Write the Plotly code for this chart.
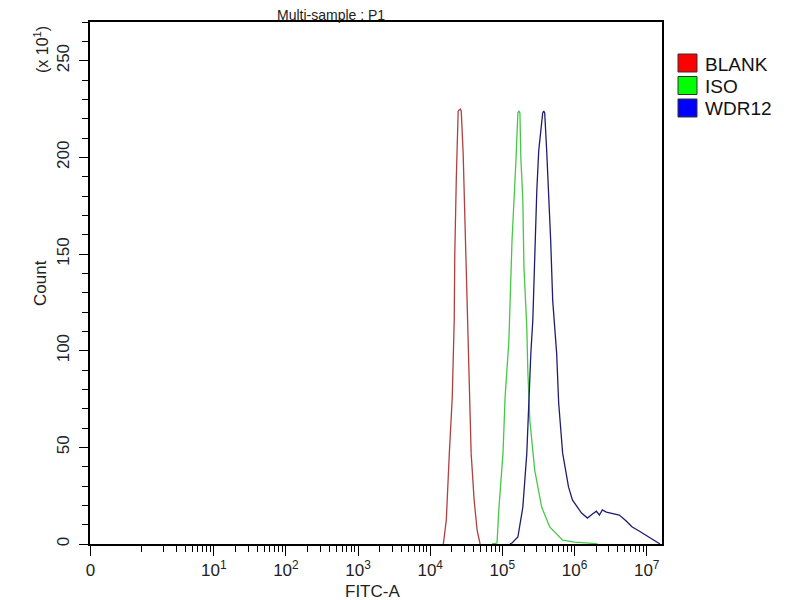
import plotly.graph_objects as go

# FITC-A intensity / count (x10^1)
blank_fitc = [15200, 16700, 18400, 20200, 21500, 21900, 23000, 24400, 26100, 26900,
              28600, 30500, 32500, 33600, 36900, 40600, 44700, 49100]
blank_count = [0, 12.4, 47, 76, 115.7, 150, 189.6, 224, 225, 224,
               202, 163.7, 124.5, 105, 47, 22.7, 7, 0]

iso_fitc = [71900, 84300, 89700, 102000, 109000, 123000, 136000, 145000, 154000, 164000,
            169000, 175000, 180000, 192000, 199000, 218000, 225000, 240000, 281000, 351000,
            453000, 684000, 1000000, 1610000, 2080000]
iso_count = [0, 0.5, 19, 47, 76, 105, 157, 183, 198, 223,
             224, 223, 200, 178, 143, 112, 90, 64, 38, 19,
             8.8, 2, 1, 0.5, 0]

wdr12_fitc = [127000, 136000, 164000, 192000, 218000, 232000, 248000, 264000, 281000, 300000,
              319000, 340000, 362000, 374000, 386000, 411000, 439000, 467000, 498000, 531000,
              565000, 603000, 684000, 826000, 938000, 1250000, 1510000, 1770000, 2010000, 2210000,
              2430000, 2760000, 3240000, 4170000, 5200000, 6300000, 7850000, 9820000, 11860000,
              13900000, 15310000]
wdr12_count = [0, 0.5, 3.6, 19, 47, 76, 98.7, 115.7, 151.9, 182.8,
               203.5, 213.8, 223, 224, 223, 203.5, 181, 157, 126, 112,
               98.7, 72.8, 47, 29.4, 22.7, 16, 13.4, 15.5, 17, 15,
               17.6, 16.5, 16, 15, 11.9, 8.8, 6.7, 4.6, 2.6,
               1, 0]

sample_names = ["BLANK", "ISO", "WDR12"]
line_colors = ["#b04040", "#46c846", "#1e1e70"]
box_colors = ["#ff0000", "#00ff00", "#0000ff"]

x_tickvals = [10 ** -0.708, 10, 100, 1000, 1e4, 1e5, 1e6, 1e7]
x_ticktext = ["0", "10<sup>1</sup>", "10<sup>2</sup>", "10<sup>3</sup>", "10<sup>4</sup>",
              "10<sup>5</sup>", "10<sup>6</sup>", "10<sup>7</sup>"]
x_minor = [k * 10 ** n for n in range(0, 7) for k in range(1, 10) if not (k == 1 and n > 0)]

y_tickvals = [0, 50, 100, 150, 200, 250]
y_minor = [v for v in range(0, 271, 10) if v % 50]

font = "Liberation Sans, Arial, sans-serif"

fig = go.Figure()
for name, xs, ys, c in zip(sample_names,
                           [blank_fitc, iso_fitc, wdr12_fitc],
                           [blank_count, iso_count, wdr12_count],
                           line_colors):
    fig.add_trace(go.Scatter(x=xs, y=ys, mode="lines", name=name,
                             line=dict(color=c, width=1.3), showlegend=False))

fig.update_xaxes(
    type="log",
    range=[-0.715, 7.212],
    showline=True, linecolor="black", linewidth=1.5, mirror=True,
    showgrid=False, zeroline=False,
    tickmode="array", tickvals=x_tickvals, ticktext=x_ticktext,
    ticks="outside", ticklen=10, tickwidth=1.3, tickcolor="black",
    tickfont=dict(size=17, color="#222", family=font),
    minor=dict(tickmode="array", tickvals=x_minor, ticks="outside",
               ticklen=6, tickwidth=1.2, tickcolor="black", showgrid=False),
)
fig.update_yaxes(
    range=[0, 270],
    showline=True, linecolor="black", linewidth=1.5, mirror=True,
    showgrid=False, zeroline=False,
    tickmode="array", tickvals=y_tickvals, tickangle=-90,
    ticks="outside", ticklen=9, tickwidth=1.3, tickcolor="black",
    ticklabelstandoff=3,
    tickfont=dict(size=17, color="#222", family=font),
    minor=dict(tickmode="array", tickvals=y_minor, ticks="outside",
               ticklen=6, tickwidth=1.2, tickcolor="black", showgrid=False),
)

# plot area in page pixels: x 90..662, y 22..544 (page body adds 8px offset)
def px(x):
    return (x - 90) / 572

def py(y):
    return (544 - y) / 522

annots = [
    dict(text="Multi-sample : P1", x=px(331), y=py(15), textangle=0, size=14),
    dict(text="FITC-A", x=px(372), y=py(592), textangle=0, size=17),
    dict(text="Count", x=px(40), y=py(283), textangle=-90, size=17),
    dict(text="(x 10<sup>1</sup>)", x=px(41), y=py(50), textangle=-90, size=16),
]
for a in annots:
    size = a.pop("size")
    fig.add_annotation(xref="paper", yref="paper", showarrow=False,
                       xanchor="center", yanchor="middle",
                       font=dict(size=size, color="#222", family=font), **a)

# legend boxes
for i, (name, c) in enumerate(zip(sample_names, box_colors)):
    top = 54 + i * 22.5
    fig.add_shape(type="rect", xref="paper", yref="paper",
                  x0=px(678), x1=px(697), y0=py(top + 18), y1=py(top),
                  fillcolor=c, line=dict(color="#333", width=1))
    fig.add_annotation(xref="paper", yref="paper", showarrow=False,
                       x=px(703), y=py(top + 10), xanchor="left", yanchor="middle",
                       text=name, font=dict(size=19, color="#111", family=font))

fig.update_layout(
    width=800, height=600,
    margin=dict(l=82, r=146, t=14, b=64),
    plot_bgcolor="white", paper_bgcolor="white",
    showlegend=False,
)

fig.write_html("out.html")
